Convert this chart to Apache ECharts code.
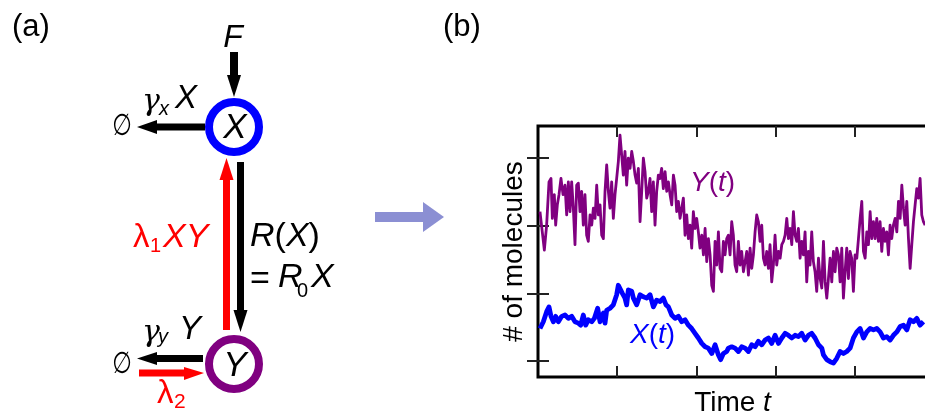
<!DOCTYPE html>
<html><head><meta charset="utf-8">
<script src="https://cdn.jsdelivr.net/npm/echarts@6/dist/echarts.min.js"></script>
<style>html,body{margin:0;padding:0;background:#fff}#c{width:925px;height:415px}</style>
</head><body><div id="c"></div>
<script>
// ---- data ----
const yTime = [0.25,0.80,1.09,1.39,1.64,1.81,2.06,2.23,2.44,2.65,2.90,3.16,3.41,3.62,3.83,4.04,4.25,4.46,4.67,4.88,5.09,5.30,5.51,5.72,5.93,6.14,6.35,6.57,6.78,6.99,7.20,7.41,7.62,7.83,8.04,8.25,8.46,8.67,8.88,9.09,9.30,9.51,9.72,9.93,10.14,10.35,10.56,10.77,10.98,11.19,11.40,11.62,11.83,12.04,
12.25,12.46,12.67,12.88,13.09,13.30,13.51,13.72,13.93,14.14,14.35,14.56,14.77,14.98,15.19,15.40,15.61,15.82,16.04,16.25,16.46,16.67,16.88,17.09,17.30,17.51,17.72,17.93,18.14,18.35,18.56,18.77,18.98,19.19,19.40,19.61,19.82,20.03,20.24,20.45,20.67,20.88,21.09,21.30,21.51,21.72,21.93,22.14,22.35,22.56,22.77,22.98,23.19,23.40,23.61,23.82,24.03,
24.24,24.45,24.66,24.87,25.08,25.29,25.50,25.71,25.93,26.14,26.35,26.56,26.77,26.98,27.19,27.40,27.61,27.82,28.03,28.24,28.45,28.66,28.87,29.08,29.29,29.50,29.71,29.92,30.13,30.35,30.56,30.77,30.98,31.19,31.40,31.61,31.82,32.03,32.24,32.45,32.66,32.87,33.08,33.29,33.50,33.71,33.92,34.13,34.34,34.55,34.76,34.97,35.18,35.40,35.61,
35.82,36.03,36.24,36.45,36.66,36.87,37.08,37.29,37.50,37.71,37.92,38.13,38.34,38.55,38.76,38.97,39.18,39.39,39.60,39.81,40.02,40.24,40.45,40.66,40.87,41.08,41.29,41.50,41.71,41.92,42.13,42.34,42.55,42.76,42.97,43.18,43.39,43.60,43.81,44.02,44.23,44.44,44.65,44.86,45.08,45.29,45.50,45.71,45.92,46.13,46.34,46.55,46.76,46.97,47.18,47.39,47.60,47.81,48.02,48.23,48.44,48.65,48.86];
const yValues = [321,264,301,365,370,311,346,301,331,346,370,346,360,316,365,321,365,326,272,360,363,321,351,301,346,286,277,316,301,326,311,360,316,331,286,281,351,390,351,326,365,311,346,370,395,434,405,375,410,360,400,385,410,395,
375,363,385,306,351,400,380,341,351,370,321,365,301,351,375,370,385,355,380,351,365,346,331,375,360,321,336,311,326,341,286,316,281,301,267,321,296,311,291,267,286,257,296,247,281,257,212,203,277,242,291,237,232,277,257,281,286,
257,306,286,242,232,277,242,262,232,247,262,227,267,237,257,291,316,306,277,301,252,242,262,237,272,217,242,286,242,262,252,272,277,286,311,281,296,272,321,286,277,296,252,277,257,291,217,262,242,291,247,232,203,252,222,
208,277,217,193,222,252,217,262,232,267,257,217,267,193,232,267,222,262,252,203,257,252,281,311,336,262,252,291,272,321,281,306,281,311,277,306,262,296,277,291,257,301,281,301,311,291,336,311,360,326,301,336,281,237,272,306,331,355,341,370,316,306,301];
const xTime = [0.25,0.67,1.09,1.39,1.64,1.94,2.23,2.57,2.99,3.41,3.83,4.25,4.67,5.09,5.39,5.72,6.02,6.35,6.78,7.11,7.53,7.83,8.25,8.46,8.67,9.09,9.51,9.93,10.14,10.35,10.65,10.98,11.19,11.40,11.83,
12.04,12.46,12.88,13.30,13.72,14.14,14.56,14.98,15.40,15.82,16.16,16.46,16.88,17.30,17.72,18.14,18.56,18.98,19.40,19.82,20.24,20.67,21.09,21.51,21.93,22.35,22.77,23.06,23.40,23.82,
24.03,24.45,24.87,25.29,25.71,26.14,26.56,26.98,27.40,27.82,28.24,28.66,29.08,29.50,29.92,30.35,30.77,31.19,31.61,32.03,32.45,32.87,33.29,33.71,34.13,34.55,34.97,35.40,35.82,
36.03,36.45,36.87,37.29,37.71,38.13,38.55,38.97,39.39,39.81,40.24,40.66,41.08,41.50,41.92,42.34,42.76,43.18,43.60,44.02,44.44,44.86,45.29,45.71,46.13,46.55,46.97,47.39,47.81,48.23,48.65];
const xValues = [148,158,173,180,166,158,166,158,166,168,163,166,158,156,153,168,153,161,158,163,178,158,171,156,175,178,183,198,212,212,200,193,183,205,203,
193,183,198,195,193,198,180,190,188,193,183,180,168,163,166,158,161,153,148,141,134,126,121,119,111,124,109,102,111,114,
119,121,119,114,121,119,114,124,121,129,124,131,134,126,138,126,134,141,138,134,138,136,141,131,138,141,134,124,119,
109,102,99,97,104,114,111,114,119,134,143,148,134,143,148,146,148,143,134,136,131,138,143,151,153,146,161,158,163,153,158];
const timeTicks = [10, 20, 30, 40];
const countTicks = [100, 200, 300, 400];
const seriesNames = ['Y(t)', 'X(t)'];

// ---- drawing ----
const FF = '"Liberation Sans", Arial, Helvetica, sans-serif';
const GF = '"DejaVu Serif", serif';
const PURPLE = '#800080', BLUE = '#0000ff', RED = '#ff0000';
const chart = echarts.init(document.getElementById('c'), null, {renderer: 'canvas'});
const zip = (a, b) => a.map((t, i) => [t, b[i]]);

function T(x, y, text, size, color, italic, align, fam) {
  return {type: 'text', x: x, y: y, z: 10, style: {text: text, font: (italic ? 'italic ' : '') + size + 'px ' + (fam || FF),
    fill: color || '#000', align: align || 'left', verticalAlign: 'middle'}};
}
function R(x, y, text, size, color, align) {
  const st = (it) => ({fontStyle: it ? 'italic' : 'normal', fontSize: size, fontFamily: FF, fill: color});
  return {type: 'text', x: x, y: y, z: 10, style: {text: text, font: size + 'px ' + FF, fill: color, align: align || 'left',
    verticalAlign: 'middle', rich: {i: st(true), n: st(false)}}};
}
function rect(x, y, w, h, c) { return {type: 'rect', z: 5, shape: {x: x, y: y, width: w, height: h}, style: {fill: c}}; }
function poly(pts, c) { return {type: 'polygon', z: 5, shape: {points: pts}, style: {fill: c}}; }
function empty(x, y) {
  const t = T(0, 0, '\u2205', 30, '#000', true, 'center', '"DejaVu Sans", sans-serif');
  t.x = x; t.y = y; t.scaleX = 0.75; return t;
}

const graphics = [
  T(12, 27, '(a)', 31, '#000'),
  T(443, 27, '(b)', 31, '#000'),
  // F input
  T(233, 38, 'F', 32, '#000', true, 'center'),
  rect(230, 52, 8, 25, '#000'), poly([[227, 75], [241, 75], [234, 97]], '#000'),
  // X node
  {type: 'circle', z: 6, shape: {cx: 234, cy: 127, r: 25}, style: {fill: '#fff', stroke: BLUE, lineWidth: 8}},
  T(235, 128, 'X', 35, '#000', true, 'center'),
  // X decay
  rect(155, 123.5, 50, 7, '#000'), poly([[157, 120], [157, 134], [137, 127]], '#000'),
  empty(122, 127),
  T(142, 102, '\u03b3', 30, '#000', true, 'left', GF), T(159, 109, 'x', 20, '#000', true), T(175, 99, 'X', 33, '#000', true),
  // red up arrow
  rect(223, 178, 7, 152, RED), poly([[219.5, 180], [233.5, 180], [226.5, 158]], RED),
  T(133, 238, '\u03bb', 33, RED), T(150, 246, '1', 20, RED), T(163, 238, 'XY', 34, RED, true),
  // black down arrow
  rect(237, 162, 7, 150, '#000'), poly([[233.5, 310], [247.5, 310], [240.5, 332]], '#000'),
  R(250, 236.5, '{i|R}{n|(}{i|X}{n|)}', 34, '#000'),
  T(250, 280, '=', 34, '#000'), T(278, 278, 'R', 34, '#000', true), T(297, 291, '0', 20, '#000'), T(311, 278, 'X', 34, '#000', true),
  // Y node
  {type: 'circle', z: 6, shape: {cx: 234, cy: 364, r: 25}, style: {fill: '#fff', stroke: PURPLE, lineWidth: 8}},
  T(235, 366, 'Y', 35, '#000', true, 'center'),
  rect(155, 355, 48, 7, '#000'), poly([[157, 352], [157, 365], [137, 358.5]], '#000'),
  empty(122, 365),
  T(142, 333, '\u03b3', 30, '#000', true, 'left', GF), T(158, 337, 'y', 20, '#000', true), T(179, 330, 'Y', 33, '#000', true),
  rect(139, 369.5, 47, 7, RED), poly([[184, 367], [184, 380], [204, 373]], RED),
  T(157, 394, '\u03bb', 33, RED), T(174, 402, '2', 21, RED),
  // big arrow
  rect(375, 212, 48, 10, '#8b8fd3'), poly([[423, 202], [423, 232], [444, 217]], '#8b8fd3'),
  // series labels
  R(690, 183, '{i|Y}{n|(}{i|t}{n|)}', 28, PURPLE),
  R(630, 335, '{i|X}{n|(}{i|t}{n|)}', 28, BLUE)
];

const tick = (vals) => ({show: true, inside: true, length: 11, lineStyle: {color: '#222', width: 2}, customValues: vals});
const xBase = {type: 'value', min: 0, max: 49.1, axisLine: {show: false}, axisLabel: {show: false}, splitLine: {show: false}};
const yBase = {type: 'value', min: 76.3, max: 447.6, axisLine: {show: false}, axisLabel: {show: false}, splitLine: {show: false}};

chart.setOption({
  animation: false,
  backgroundColor: '#fff',
  grid: {left: 538, top: 126, width: 389, height: 251, show: true, borderColor: '#000', borderWidth: 3,
    containLabel: false, outerBoundsMode: 'none'},
  xAxis: [
    Object.assign({}, xBase, {position: 'bottom', axisTick: tick(timeTicks), name: '{n|Time }{i|t}', nameLocation: 'middle', nameGap: 12,
      nameTextStyle: {rich: {n: {fontSize: 28, fontFamily: FF, color: '#000'}, i: {fontSize: 28, fontFamily: FF, fontStyle: 'italic', color: '#000'}}}}),
    Object.assign({}, xBase, {position: 'top', axisTick: tick(timeTicks)})
  ],
  yAxis: [
    Object.assign({}, yBase, {position: 'left', axisTick: tick(countTicks), name: '# of molecules', nameLocation: 'middle', nameGap: 10,
      nameTextStyle: {fontSize: 28, fontFamily: FF, color: '#000'}}),
    Object.assign({}, yBase, {position: 'right', axisTick: tick(countTicks)})
  ],
  series: [
    {name: seriesNames[0], type: 'line', xAxisIndex: 0, yAxisIndex: 0, data: zip(yTime, yValues), showSymbol: false,
      lineStyle: {color: PURPLE, width: 2.8, join: 'round'}, z: 3},
    {name: seriesNames[1], type: 'line', xAxisIndex: 0, yAxisIndex: 0, data: zip(xTime, xValues), showSymbol: false,
      lineStyle: {color: BLUE, width: 4.8, join: 'round'}, z: 4}
  ],
  graphic: graphics
});
</script></body></html>
